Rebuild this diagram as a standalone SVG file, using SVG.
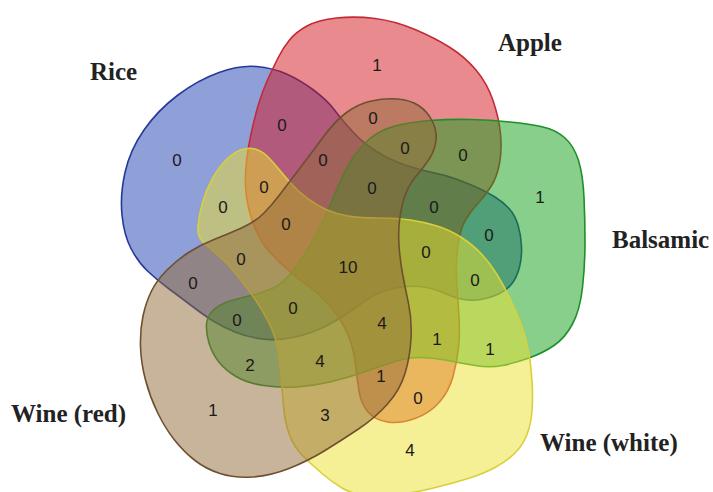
<svg xmlns="http://www.w3.org/2000/svg" width="713" height="492" viewBox="0 0 713 492">
<style>
.set{stroke-width:1.6;fill-opacity:0.5}
.n{font-family:"Liberation Sans",Arial,sans-serif;font-size:17px;fill:#1a1a1a;text-anchor:middle}
.lab{font-family:"Liberation Serif","Times New Roman",serif;font-size:25px;font-weight:bold;fill:#222}
</style>
<rect width="713" height="492" fill="#fff"/>
<g id="sets">
<g id="rice"><path class="set" fill="#1f40b0" stroke="#26389a" d="M 256.5,66.5 Q 273,68 286.5,74 Q 300,80 313.5,90 Q 327,100 334.5,110 Q 342,120 352.5,131.5 Q 363,143 376.5,151.5 Q 390,160 405,165 Q 420,170 432.5,172.5 Q 445,175 456,179 Q 467,183 477,187.5 Q 487,192 495,197 Q 503,202 509,208.5 Q 515,215 518,225 Q 521,235 521.5,246 Q 522,257 519.5,267 Q 517,277 512,283.5 Q 507,290 498.5,294 Q 490,298 481,299.5 Q 472,301 463.5,299.5 Q 455,298 444,293 Q 433,288 420,286.5 Q 407,285 391,289 Q 375,293 360,304.5 Q 345,316 329,324.5 Q 313,333 295,337 Q 277,341 262,339 Q 247,337 235,332 Q 223,327 214,321.5 Q 205,316 192.5,306.5 Q 180,297 168.5,288.5 Q 157,280 147.5,271 Q 138,262 131,248.5 Q 124,235 122,215 Q 120,195 125,172.5 Q 130,150 144,130 Q 158,110 178,95 Q 198,80 219,72.5 Q 240,65 256.5,66.5 Z"/></g>
<g id="apple"><path class="set" fill="#d4161f" stroke="#c42a35" d="M 278,58 Q 283,48 289.5,40 Q 296,32 307,26 Q 318,20 336.5,18 Q 355,16 375,18.5 Q 395,21 415,29.5 Q 435,38 450,47.5 Q 465,57 476,70 Q 487,83 493,100.5 Q 499,118 500.5,134 Q 502,150 499.5,163.5 Q 497,177 491,186.5 Q 485,196 477.5,204 Q 470,212 465.5,220 Q 461,228 459,239 Q 457,250 456.5,262.5 Q 456,275 457,287.5 Q 458,300 459,316.5 Q 460,333 458.5,347.5 Q 457,362 453,376.5 Q 449,391 439.5,402 Q 430,413 415,418.5 Q 400,424 387.5,422 Q 375,420 368,412 Q 361,404 359,391 Q 357,378 355.5,364 Q 354,350 348.5,336 Q 343,322 331.5,308 Q 320,294 309,286.5 Q 298,279 289,271 Q 280,263 271.5,254 Q 263,245 257.5,233.5 Q 252,222 249,210 Q 246,198 245.5,186.5 Q 245,175 246.5,161.5 Q 248,148 251,134 Q 254,120 258,106 Q 262,92 267.5,80 Q 273,68 278,58 Z"/></g>
<g id="balsamic"><path class="set" fill="#12a01a" stroke="#1f8f2a" d="M 370,138.5 Q 380,130 395,126 Q 410,122 430,120.5 Q 450,119 470,119.5 Q 490,120 510,122 Q 530,124 543,127 Q 556,130 565,138 Q 574,146 578.5,160.5 Q 583,175 584,197.5 Q 585,220 585,242.5 Q 585,265 582.5,287.5 Q 580,310 572.5,324 Q 565,338 554,345.5 Q 543,353 529,358 Q 515,363 502.5,365.5 Q 490,368 475,365.5 Q 460,363 445,360 Q 430,357 417.5,357.5 Q 405,358 391.5,362.5 Q 378,367 362.5,372.5 Q 347,378 330,382 Q 313,386 296.5,387 Q 280,388 263.5,385.5 Q 247,383 236,376.5 Q 225,370 218.5,361.5 Q 212,353 209,343 Q 206,333 206.5,324.5 Q 207,316 213.5,310 Q 220,304 230,301 Q 240,298 251,295.5 Q 262,293 272,288.5 Q 282,284 289.5,275 Q 297,266 304,255 Q 311,244 317.5,232 Q 324,220 329,208 Q 334,196 339.5,183 Q 345,170 352.5,158.5 Q 360,147 370,138.5 Z"/></g>
<g id="wine-white"><path class="set" fill="#ebe12d" stroke="#d8d03a" d="M 198,226 Q 199,215 202.5,202.5 Q 206,190 212.5,178.5 Q 219,167 226,160 Q 233,153 240.5,150 Q 248,147 255,149 Q 262,151 267.5,156.5 Q 273,162 279.5,170 Q 286,178 292.5,185 Q 299,192 307.5,198.5 Q 316,205 326,209.5 Q 336,214 348,216 Q 360,218 378.5,218 Q 397,218 410.5,220 Q 424,222 437,226 Q 450,230 461.5,237.5 Q 473,245 481.5,254 Q 490,263 497,274.5 Q 504,286 510,298.5 Q 516,311 521,324 Q 526,337 528.5,351 Q 531,365 532,381 Q 533,397 532,410.5 Q 531,424 527,434.5 Q 523,445 515,453 Q 507,461 495,467.5 Q 483,474 466.5,479 Q 450,484 433.5,488 Q 417,492 399.5,494.5 Q 382,497 367,495.5 Q 352,494 342,488 Q 332,482 322,473.5 Q 312,465 303,456 Q 294,447 289.5,435 Q 285,423 283.5,406.5 Q 282,390 281,375 Q 280,360 277.5,347.5 Q 275,335 268.5,322 Q 262,309 253.5,297 Q 245,285 236.5,274.5 Q 228,264 219,256 Q 210,248 203.5,242.5 Q 197,237 198,226 Z"/></g>
<g id="wine-red"><path class="set" fill="#916937" stroke="#6e5030" d="M 167,270 Q 177,260 188.5,252.5 Q 200,245 214,239.5 Q 228,234 241.5,228 Q 255,222 263.5,213.5 Q 272,205 279.5,195 Q 287,185 298.5,170 Q 310,155 322.5,138 Q 335,121 346.5,112.5 Q 358,104 371.5,101 Q 385,98 397.5,99 Q 410,100 418.5,105.5 Q 427,111 432,120.5 Q 437,130 436,140 Q 435,150 429.5,158.5 Q 424,167 417,175 Q 410,183 406,193 Q 402,203 400,216.5 Q 398,230 399,245 Q 400,260 402.5,273.5 Q 405,287 408.5,303.5 Q 412,320 411,338.5 Q 410,357 405,373.5 Q 400,390 387.5,404 Q 375,418 358.5,429 Q 342,440 325,450.5 Q 308,461 289,468.5 Q 270,476 252,477 Q 234,478 220,473.5 Q 206,469 195,460.5 Q 184,452 174.5,440 Q 165,428 157.5,412.5 Q 150,397 145.5,380 Q 141,363 140.5,346.5 Q 140,330 143,316 Q 146,302 151.5,291 Q 157,280 167,270 Z"/></g>
</g>
<g id="counts">
<text class="n" x="377" y="71">1</text>
<text class="n" x="177" y="166">0</text>
<text class="n" x="282" y="131">0</text>
<text class="n" x="373" y="124">0</text>
<text class="n" x="323" y="166">0</text>
<text class="n" x="405" y="154">0</text>
<text class="n" x="463" y="161">0</text>
<text class="n" x="540" y="203">1</text>
<text class="n" x="264" y="193">0</text>
<text class="n" x="372" y="194">0</text>
<text class="n" x="434" y="213">0</text>
<text class="n" x="223" y="213">0</text>
<text class="n" x="286" y="230">0</text>
<text class="n" x="489" y="241">0</text>
<text class="n" x="241" y="265">0</text>
<text class="n" x="348" y="273">10</text>
<text class="n" x="426" y="258">0</text>
<text class="n" x="193" y="289">0</text>
<text class="n" x="475" y="286">0</text>
<text class="n" x="293" y="314">0</text>
<text class="n" x="237" y="326">0</text>
<text class="n" x="382" y="329">4</text>
<text class="n" x="437" y="345">1</text>
<text class="n" x="490" y="355">1</text>
<text class="n" x="250" y="371">2</text>
<text class="n" x="320" y="367">4</text>
<text class="n" x="381" y="382">1</text>
<text class="n" x="418" y="404">0</text>
<text class="n" x="213" y="416">1</text>
<text class="n" x="325" y="421">3</text>
<text class="n" x="410" y="456">4</text>
</g>
<g id="labels">
<text class="lab" x="90" y="80">Rice</text>
<text class="lab" x="498" y="51">Apple</text>
<text class="lab" x="612" y="248">Balsamic</text>
<text class="lab" x="11" y="422">Wine (red)</text>
<text class="lab" x="540" y="451">Wine (white)</text>
</g>
</svg>
